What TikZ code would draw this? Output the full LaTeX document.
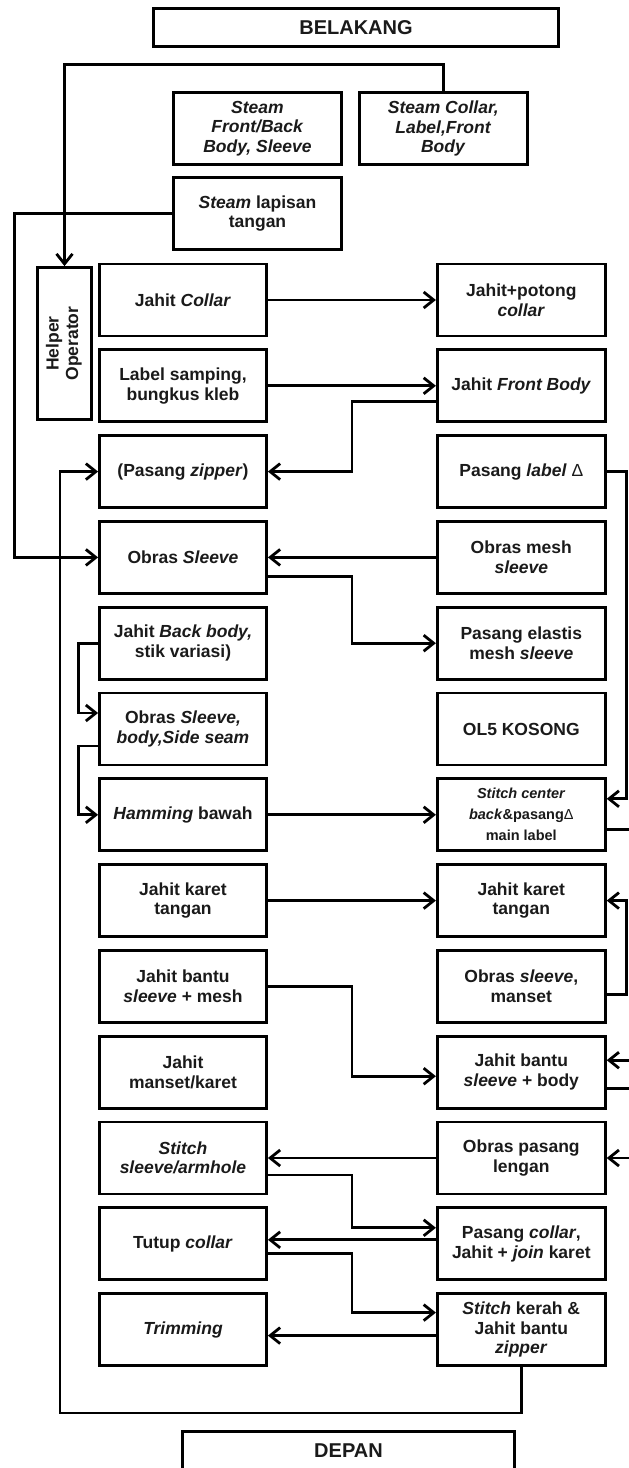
\documentclass[tikz,border=0pt]{standalone}
\usepackage{fontspec}
\setmainfont{Liberation Sans}
\usepackage{xcolor}
\usepackage{graphicx}
\usepackage{tikz}
\usetikzlibrary{arrows.meta, positioning, calc}

\definecolor{inkgray}{HTML}{1A1A1A}

\begin{document}
\begin{tikzpicture}[
   x=1pt, y=-1pt,
   node distance = 11pt,
   box/.style = {draw, rectangle, line width=2.8pt, minimum width=167pt, minimum height=72pt, inner sep=2pt, align=center, text=inkgray, font=\fontsize{17.5}{19.5}\selectfont\bfseries},
   rbox/.style = {box, minimum width=168pt},
   endbox/.style = {box, minimum height=38pt, font=\fontsize{20}{22}\selectfont\bfseries},
   line/.style = {draw, line width=2.8pt, -{Straight Barb[length=10pt,width=16pt]}},
   plain/.style = {draw, line width=2.8pt}
   ]
  \clip (0,0) rectangle (629,1468);

  % Belakang box
  \node[endbox, minimum width=405pt] (belakang) at (356,27.5) {BELAKANG};

  % Steam boxes
  \node[rbox] (steamfb) at (257.5,128.5)
   {\textit{Steam}\\ \textit{Front/Back}\\ \textit{Body, Sleeve}};
  \node[rbox, right=15pt of steamfb] (steamcl)
   {\textit{Steam Collar,}\\ \textit{Label,Front}\\ \textit{Body}};
  \node[rbox, below=10pt of steamfb] (lapisan)
   {\textit{Steam} lapisan\\ tangan};

  % Helper operator box
  \node[box, minimum width=54pt, minimum height=152pt] (helper) at (64.5,343.5)
   {\rotatebox{90}{\begin{tabular}{@{}c@{}}Helper\\ Operator\end{tabular}}};

  % Left column
  \node[box] (jcollar) at (183,300) {Jahit \textit{Collar}};
  \node[box, below=of jcollar] (samping) {Label samping,\\ bungkus kleb};
  \node[box, below=of samping] (zipper) {(Pasang \textit{zipper})};
  \node[box, below=of zipper] (osleeve) {Obras \textit{Sleeve}};
  \node[box, below=of osleeve] (backbody) {Jahit \textit{Back body,}\\ stik variasi)};
  \node[box, below=of backbody] (sideseam) {Obras \textit{Sleeve,}\\ \textit{body,Side seam}};
  \node[box, below=of sideseam] (hamming) {\textit{Hamming} bawah};
  \node[box, below=of hamming] (karetL) {Jahit karet\\ tangan};
  \node[box, below=of karetL] (bantumesh) {Jahit bantu\\ \textit{sleeve} + mesh};
  \node[box, below=of bantumesh] (manset) {Jahit\\ manset/karet};
  \node[box, below=of manset] (armhole) {\textit{Stitch}\\ \textit{sleeve/armhole}};
  \node[box, below=of armhole] (tutup) {Tutup \textit{collar}};
  \node[box, below=of tutup] (trimming) {\textit{Trimming}};

  % Right column
  \node[rbox, right=168pt of jcollar] (potong) {Jahit+potong\\ \textit{collar}};
  \node[rbox, below=of potong] (jfront) {Jahit \textit{Front Body}};
  \node[rbox, below=of jfront] (plabel) {Pasang \textit{label} {\mdseries Δ}};
  \node[rbox, below=of plabel] (meshsl) {Obras mesh\\ \textit{sleeve}};
  \node[rbox, below=of meshsl] (elastis) {Pasang elastis\\ mesh \textit{sleeve}};
  \node[rbox, below=of elastis] (kosong) {OL5 KOSONG};
  \node[rbox, below=of kosong, font=\fontsize{14.5}{21}\selectfont\bfseries] (scback)
   {\textit{Stitch center}\\ \textit{back}\&pasang{\mdseries Δ}\\ main label};
  \node[rbox, below=of scback] (karetR) {Jahit karet\\ tangan};
  \node[rbox, below=of karetR] (osmanset) {Obras \textit{sleeve},\\ manset};
  \node[rbox, below=of osmanset] (bantubody) {Jahit bantu\\ \textit{sleeve} + body};
  \node[rbox, below=of bantubody] (lengan) {Obras pasang\\ lengan};
  \node[rbox, below=of lengan] (pcollar) {Pasang \textit{collar},\\ Jahit + \textit{join} karet};
  \node[rbox, below=of pcollar] (kerah) {\textit{Stitch} kerah \&\\ Jahit bantu\\ \textit{zipper}};

  % Depan box
  \node[endbox, minimum width=332pt] (depan) at (348.5,1450.5) {DEPAN};

  % Arrows
  \draw[line] (steamcl.north) -- ++(0,-27) -| (helper.north);
  \draw[line] (lapisan.west) -- ++(-158,0) |- (osleeve.west);
  \draw[line] (jcollar.east) -- (potong.west);
  \draw[line] (samping.east) -- (jfront.west);
  \draw[line] ([yshift=-16pt]jfront.west) -- ++(-84,0) |- (zipper.east);
  \draw[line] (meshsl.west) -- (osleeve.east);
  \draw[line] ([yshift=-19pt]osleeve.east) -- ++(84,0) |- (elastis.west);
  \draw[line] (backbody.west) -- ++(-20,0) |- ([yshift=16pt]sideseam.west);
  \draw[line] ([yshift=-17pt]sideseam.west) -- ++(-20,0) |- (hamming.west);
  \draw[line] (hamming.east) -- (scback.west);
  \draw[line] (plabel.east) -- ++(20,0) |- ([yshift=16pt]scback.east);
  \draw[plain] ([yshift=-15pt]scback.east) -- ++(30,0);
  \draw[line] (karetL.east) -- (karetR.west);
  \draw[line] ([yshift=-8pt]osmanset.east) -- ++(20,0) |- (karetR.east);
  \draw[line] (bantumesh.east) -- ++(84,0) |- ([yshift=-4pt]bantubody.west);
  \draw[line] ([xshift=30pt,yshift=12pt]bantubody.east) -- ([yshift=12pt]bantubody.east);
  \draw[plain] ([yshift=-16pt]bantubody.east) -- ++(30,0);
  \draw[line] ([xshift=30pt]lengan.east) -- (lengan.east);
  \draw[line] (lengan.west) -- (armhole.east);
  \draw[line] ([yshift=-17pt]armhole.east) -- ++(84,0) |- ([yshift=16pt]pcollar.west);
  \draw[line] ([yshift=4pt]pcollar.west) -- ([yshift=4pt]tutup.east);
  \draw[line] ([yshift=-10pt]tutup.east) -- ++(84,0) |- ([yshift=17pt]kerah.west);
  \draw[line] ([yshift=-6pt]kerah.west) -- ([yshift=-6pt]trimming.east);
  \coordinate (loopcorner) at (60,1413);
  \draw[line] (kerah.south) |- (loopcorner) |- (zipper.west);
\end{tikzpicture}
\end{document}
